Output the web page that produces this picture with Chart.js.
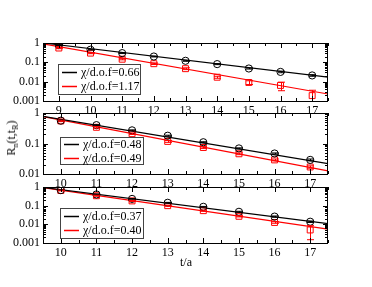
<!DOCTYPE html>
<html><head><meta charset="utf-8">
<script src="https://cdn.jsdelivr.net/npm/chart.js@4/dist/chart.umd.min.js"></script>
<style>
html,body{margin:0;padding:0;background:#fff;}
#wrap{position:relative;width:372px;height:287px;overflow:hidden;font-family:"Liberation Serif",serif;color:#000;}
canvas{position:absolute;left:0;top:0;}
#ytitle{position:absolute;left:11px;top:138px;transform:translate(-50%,-50%) rotate(-90deg);white-space:nowrap;font-size:12px;line-height:12px;}
#ytitle sub{font-size:8px;vertical-align:-3px;line-height:0;}
#xtitle{position:absolute;left:186px;top:262px;transform:translate(-50%,-50%);white-space:nowrap;font-size:12px;}
</style></head><body>
<div id="wrap">
<canvas id="c1" width="372" height="287"></canvas>
<canvas id="c2" width="372" height="287"></canvas>
<canvas id="c3" width="372" height="287"></canvas>
<div id="ytitle">R<sub>n</sub>(t,t<sub>R</sub>)</div>
<div id="xtitle">t/a</div>
</div>
<script>
// ---- data ----
const t1 = [9, 10, 11, 12, 13, 14, 15, 16, 17];
const t23 = [10, 11, 12, 13, 14, 15, 16, 17];

const black1 = [0.78, 0.45, 0.30, 0.20, 0.12, 0.081, 0.048, 0.032, 0.021];
const black1Err = [0.04, 0.02, 0.015, 0.01, 0.007, 0.005, 0.003, 0.003, 0.002];
const red1 = [0.55, 0.30, 0.145, 0.085, 0.047, 0.017, 0.0091, 0.0064, 0.0019];
const red1Err = [0.04, 0.02, 0.01, 0.008, 0.005, 0.002, 0.002, 0.003, 0.0017];

const black2 = [0.56, 0.40, 0.27, 0.18, 0.11, 0.069, 0.047, 0.029];
const black2Err = [0.02, 0.015, 0.01, 0.007, 0.004, 0.003, 0.002, 0.002];
const red2 = [0.55, 0.34, 0.21, 0.117, 0.074, 0.046, 0.029, 0.017];
const red2Err = [0.03, 0.02, 0.012, 0.008, 0.005, 0.003, 0.002, 0.0015];

const black3 = [0.68, 0.40, 0.23, 0.143, 0.087, 0.047, 0.026, 0.0138];
const black3Err = [0.03, 0.02, 0.01, 0.007, 0.004, 0.003, 0.002, 0.0012];
const red3 = [0.65, 0.34, 0.18, 0.10, 0.054, 0.027, 0.0126, 0.005];
const red3Err = [0.03, 0.02, 0.012, 0.007, 0.004, 0.002, 0.0012, 0.0035];

// fit lines (value at start and end of the t range)
const fitT1 = [8.5, 17.5];
const fitBlack1 = [1.0, 0.017];
const fitRed1 = [0.9, 0.0023];
const fitT23 = [9.5, 17.5];
const fitBlack2 = [0.78, 0.022];
const fitRed2 = [0.76, 0.0126];
const fitBlack3 = [0.95, 0.011];
const fitRed3 = [0.93, 0.0056];

const legend1 = ['χ/d.o.f=0.66', 'χ/d.o.f=1.17'];
const legend2 = ['χ/d.o.f=0.48', 'χ/d.o.f=0.49'];
const legend3 = ['χ/d.o.f=0.37', 'χ/d.o.f=0.40'];

const xTicks1 = [9, 10, 11, 12, 13, 14, 15, 16, 17];
const xTicks23 = [10, 11, 12, 13, 14, 15, 16, 17];
const yTicks1 = [0.001, 0.01, 0.1, 1];
const yTicks2 = [0.01, 0.1, 1];
const yTicks3 = [0.001, 0.01, 0.1, 1];

// ---- helpers ----
const FONT = '"Liberation Serif", serif';
const zip = (xs, ys) => xs.map((x, i) => ({x: x, y: ys[i]}));

const frameTicks = {
  id: 'frameTicks',
  afterDraw(chart) {
    const ctx = chart.ctx, a = chart.chartArea, xs = chart.scales.x, ys = chart.scales.y;
    ctx.save();
    ctx.strokeStyle = '#000';
    ctx.lineWidth = 1;
    ctx.beginPath();
    for (let v = Math.ceil(xs.min * 2) / 2; v <= xs.max + 1e-9; v += 0.5) {
      const px = Math.round(xs.getPixelForValue(v)) + 0.5;
      const len = Number.isInteger(v) ? 5 : 3;
      ctx.moveTo(px, a.bottom); ctx.lineTo(px, a.bottom - len);
      ctx.moveTo(px, a.top); ctx.lineTo(px, a.top + len);
    }
    const e0 = Math.floor(Math.log10(ys.min) + 1e-9), e1 = Math.ceil(Math.log10(ys.max) - 1e-9);
    for (let e = e0; e <= e1; e++) {
      for (let m = 1; m < 10; m++) {
        const v = m * Math.pow(10, e);
        if (v < ys.min * 0.999 || v > ys.max * 1.001) continue;
        const py = Math.round(ys.getPixelForValue(v)) + 0.5;
        const len = m === 1 ? 5 : 3;
        ctx.moveTo(a.left, py); ctx.lineTo(a.left + len, py);
        ctx.moveTo(a.right, py); ctx.lineTo(a.right - len, py);
      }
    }
    ctx.stroke();
    ctx.strokeRect(Math.round(a.left) + 0.5, Math.round(a.top) + 0.5,
                   Math.round(a.right - a.left) - 1, Math.round(a.bottom - a.top));
    ctx.restore();
  }
};

const errorBars = {
  id: 'errorBars',
  afterDatasetsDraw(chart) {
    const ctx = chart.ctx, a = chart.chartArea, xs = chart.scales.x, ys = chart.scales.y;
    ctx.save();
    ctx.beginPath();
    ctx.rect(a.left, a.top, a.right - a.left, a.bottom - a.top);
    ctx.clip();
    chart.data.datasets.forEach(ds => {
      if (!ds.errors) return;
      ctx.strokeStyle = ds.borderColor;
      ctx.lineWidth = 1;
      ds.data.forEach((p, j) => {
        const e = ds.errors[j];
        const x = Math.round(xs.getPixelForValue(p.x)) + 0.5;
        const yHi = ys.getPixelForValue(p.y + e);
        const lo = p.y - e;
        const yLo = lo > 0 ? ys.getPixelForValue(lo) : a.bottom + 10;
        ctx.beginPath();
        ctx.moveTo(x, yHi); ctx.lineTo(x, yLo);
        ctx.moveTo(x - 3.5, yHi); ctx.lineTo(x + 3.5, yHi);
        ctx.moveTo(x - 3.5, yLo); ctx.lineTo(x + 3.5, yLo);
        ctx.stroke();
      });
    });
    ctx.restore();
  }
};

const boxLegend = {
  id: 'boxLegend',
  afterDraw(chart, args, opts) {
    if (!opts || !opts.items) return;
    const ctx = chart.ctx, a = chart.chartArea;
    const bx = a.left + opts.dx, by = a.top + opts.dy, bw = opts.w, bh = opts.h;
    ctx.save();
    ctx.fillStyle = '#fff';
    ctx.fillRect(bx, by, bw, bh);
    ctx.strokeStyle = '#444';
    ctx.lineWidth = 1;
    ctx.strokeRect(Math.round(bx) + 0.5, Math.round(by) + 0.5, bw, bh);
    ctx.font = '12px ' + FONT;
    ctx.textBaseline = 'middle';
    ctx.textAlign = 'left';
    opts.items.forEach((it, i) => {
      const y = Math.round(by + opts.rows[i]) + 0.5;
      ctx.strokeStyle = it.color;
      ctx.lineWidth = 1.5;
      ctx.beginPath();
      ctx.moveTo(bx + 4, y); ctx.lineTo(bx + 19, y);
      ctx.stroke();
      ctx.fillStyle = '#000';
      ctx.fillText(it.label, bx + 23, y + 0.5);
    });
    ctx.restore();
  }
};

function makeChart(id, cfg) {
  const datasets = [
    {data: zip(cfg.fitT, cfg.fitB), showLine: true, borderColor: '#000', borderWidth: 1.2, pointRadius: 0, order: 3},
    {data: zip(cfg.fitT, cfg.fitR), showLine: true, borderColor: '#ff0000', borderWidth: 1.2, pointRadius: 0, order: 4},
    {data: zip(cfg.t, cfg.black), errors: cfg.blackErr, showLine: false, borderColor: '#000',
     backgroundColor: 'rgba(0,0,0,0)', pointStyle: 'circle', pointRadius: 3.6, borderWidth: 1, order: 1},
    {data: zip(cfg.t, cfg.red), errors: cfg.redErr, showLine: false, borderColor: '#ff0000',
     backgroundColor: 'rgba(0,0,0,0)', pointStyle: 'rect', pointRadius: 4.2, borderWidth: 1, order: 2}
  ];
  return new Chart(document.getElementById(id), {
    type: 'scatter',
    data: {datasets: datasets},
    plugins: [errorBars, frameTicks, boxLegend],
    options: {
      responsive: false,
      devicePixelRatio: 1,
      animation: false,
      events: [],
      layout: {padding: {left: 0, right: 44, top: cfg.top, bottom: 287 - cfg.bottom - 20}},
      plugins: {
        legend: {display: false},
        tooltip: {enabled: false},
        boxLegend: {
          dx: cfg.leg.dx, dy: cfg.leg.dy, w: cfg.leg.w, h: cfg.leg.h, rows: cfg.leg.rows,
          items: [{label: cfg.legend[0], color: '#000'}, {label: cfg.legend[1], color: '#ff0000'}]
        }
      },
      scales: {
        x: {
          type: 'linear', position: 'bottom', min: cfg.xmin, max: cfg.xmax,
          grid: {display: false, drawTicks: false}, border: {display: false},
          afterFit: s => { s.height = 20; },
          afterBuildTicks: s => { s.ticks = cfg.xTicks.map(v => ({value: v})); },
          ticks: {autoSkip: false, maxRotation: 0, padding: 3, color: '#000',
                  font: {family: FONT, size: 12}, callback: v => String(v)}
        },
        y: {
          type: 'logarithmic', position: 'left', min: cfg.ymin, max: cfg.ymax,
          grid: {display: false, drawTicks: false}, border: {display: false},
          afterFit: s => { s.width = 43; },
          afterBuildTicks: s => { s.ticks = cfg.yTicks.map(v => ({value: v})); },
          ticks: {autoSkip: false, padding: 3, color: '#000',
                  font: {family: FONT, size: 12}, callback: v => String(v)}
        }
      }
    }
  });
}

makeChart('c1', {
  t: t1, black: black1, blackErr: black1Err, red: red1, redErr: red1Err,
  fitT: fitT1, fitB: fitBlack1, fitR: fitRed1, legend: legend1,
  xTicks: xTicks1, yTicks: yTicks1, xmin: 8.5, xmax: 17.5, ymin: 0.001, ymax: 1,
  top: 43, bottom: 101, leg: {dx: 15, dy: 21, w: 82, h: 30, rows: [8, 22]}
});
makeChart('c2', {
  t: t23, black: black2, blackErr: black2Err, red: red2, redErr: red2Err,
  fitT: fitT23, fitB: fitBlack2, fitR: fitRed2, legend: legend2,
  xTicks: xTicks23, yTicks: yTicks2, xmin: 9.5, xmax: 17.5, ymin: 0.01, ymax: 1,
  top: 113, bottom: 174, leg: {dx: 17, dy: 24, w: 83, h: 27, rows: [6.5, 20.5]}
});
makeChart('c3', {
  t: t23, black: black3, blackErr: black3Err, red: red3, redErr: red3Err,
  fitT: fitT23, fitB: fitBlack3, fitR: fitRed3, legend: legend3,
  xTicks: xTicks23, yTicks: yTicks3, xmin: 9.5, xmax: 17.5, ymin: 0.001, ymax: 1,
  top: 187, bottom: 243, leg: {dx: 17, dy: 21, w: 83, h: 30, rows: [8, 22]}
});
</script>
</body></html>
